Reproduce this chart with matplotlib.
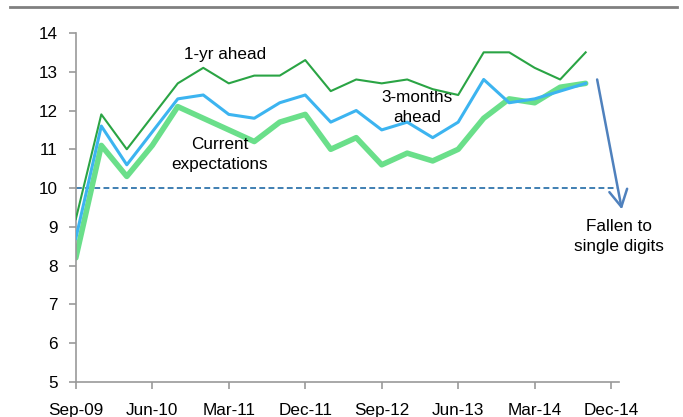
import numpy as np
import matplotlib
matplotlib.use("Agg")
from matplotlib import pyplot as plt
from matplotlib.lines import Line2D

plt.rcParams['font.family'] = ['Liberation Sans', 'DejaVu Sans']

# quarterly survey, Sep-09 .. Sep-14
un_anio = [9.2, 11.9, 11.0, 11.85, 12.7, 13.1, 12.7, 12.9, 12.9, 13.3, 12.5,
           12.8, 12.7, 12.8, 12.55, 12.4, 13.5, 13.5, 13.1, 12.8, 13.5]
tres_meses = [8.7, 11.6, 10.6, 11.45, 12.3, 12.4, 11.9, 11.8, 12.2, 12.4, 11.7,
              12.0, 11.5, 11.7, 11.3, 11.7, 12.8, 12.2, 12.3, 12.5, 12.7]
actual = [8.2, 11.1, 10.3, 11.1, 12.1, 11.8, 11.5, 11.2, 11.7, 11.9, 11.0,
          11.3, 10.6, 10.9, 10.7, 11.0, 11.8, 12.3, 12.2, 12.6, 12.7]
etiquetas_x = ["Sep-09", "Jun-10", "Mar-11", "Dec-11", "Sep-12", "Jun-13", "Mar-14", "Dec-14"]
umbral = 10

x = np.arange(len(un_anio))

fig = plt.figure(figsize=(6.83, 4.17), dpi=100)
ax = fig.add_axes([0.111, 0.084, 0.795, 0.837])

ax.plot(x, actual, color="#6ADF8A", lw=4, solid_capstyle="round", zorder=2)
ax.plot(x, tres_meses, color="#3CB4F0", lw=2.2, zorder=3)
ax.plot(x, un_anio, color="#2AA444", lw=1.5, zorder=4)
ax.plot([0, 21.25], [umbral, umbral], color="#1F6AA5", lw=1.2, ls=(0, (3.5, 2)), zorder=1)

# flecha hacia un digito
ax.annotate("", xy=(21.42, 9.45), xytext=(20.45, 12.8),
            arrowprops=dict(arrowstyle="->,head_length=1.2,head_width=0.65",
                            color="#4F81BD", lw=1.8, shrinkA=0, shrinkB=0),
            annotation_clip=False)

ax.text(5.85, 13.45, "1-yr ahead", fontsize=12.3, ha="center", va="center")
ax.text(13.4, 12.07, "3-months\nahead", fontsize=12.3, ha="center", va="center", linespacing=1.4)
ax.text(5.65, 10.86, "Current\nexpectations", fontsize=12.3, ha="center", va="center", linespacing=1.4)
ax.text(21.3, 8.75, "Fallen to\nsingle digits", fontsize=12.3, ha="center", va="center",
        linespacing=1.4, clip_on=False)

ax.set_xlim(0, 21.3)
ax.set_ylim(5, 14)
ax.set_yticks(range(5, 15))
ax.set_xticks(np.arange(0, 22, 3))
ax.set_xticklabels(etiquetas_x)
ax.tick_params(labelsize=12.3, color="#999999", length=5, width=1.2)
ax.tick_params(axis="x", pad=10)
ax.tick_params(axis="y", pad=8)
for s in ["top", "right"]:
    ax.spines[s].set_visible(False)
for s in ["left", "bottom"]:
    ax.spines[s].set_color("#999999")
    ax.spines[s].set_linewidth(1.2)

fig.add_artist(Line2D([10 / 683, 677 / 683], [1 - 6.5 / 417, 1 - 6.5 / 417],
                      color="#808080", lw=2))

plt.savefig("out.png", dpi=100)
